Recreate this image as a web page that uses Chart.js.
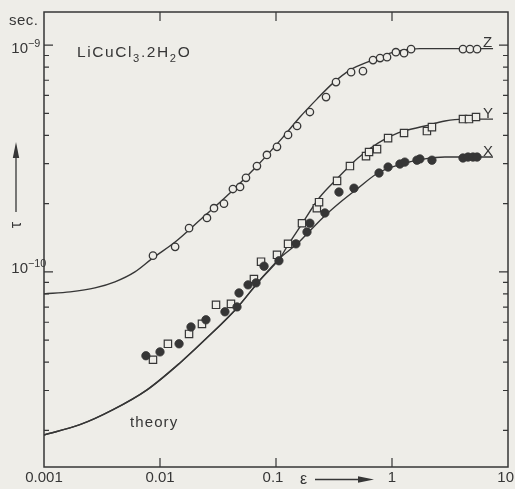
<!DOCTYPE html>
<html>
<head>
<meta charset="utf-8">
<title>LiCuCl3.2H2O relaxation time</title>
<style>
  html, body { margin: 0; padding: 0; background: #eeede8; }
  canvas { display: block; }
</style>
<script src="https://cdn.jsdelivr.net/npm/chart.js@4.4.1/dist/chart.umd.min.js"></script>
</head>
<body>
<canvas id="c" width="515" height="489"></canvas>
<script>
// ---- measured points (ε, τ in seconds) ----
// Z: open circles
const epsZ = [0.0087, 0.0135, 0.0178, 0.0254, 0.0292, 0.0356, 0.0425, 0.049, 0.0551, 0.0685,
              0.0835, 0.102, 0.127, 0.152, 0.196, 0.270, 0.329, 0.444, 0.562, 0.686,
              0.789, 0.906, 1.08, 1.27, 1.46, 4.09, 4.70, 5.41];
const tauZ = [1.18e-10, 1.29e-10, 1.56e-10, 1.73e-10, 1.91e-10, 2.00e-10, 2.32e-10, 2.37e-10, 2.60e-10, 2.93e-10,
              3.28e-10, 3.56e-10, 4.02e-10, 4.40e-10, 5.07e-10, 5.90e-10, 6.87e-10, 7.60e-10, 7.68e-10, 8.59e-10,
              8.77e-10, 8.85e-10, 9.31e-10, 9.22e-10, 9.60e-10, 9.60e-10, 9.60e-10, 9.60e-10];

// Y: open squares
const epsY = [0.0087, 0.0117, 0.0178, 0.0230, 0.0304, 0.0409, 0.0645, 0.0743, 0.102, 0.127,
              0.1675, 0.225, 0.235, 0.336, 0.434, 0.597, 0.634, 0.743, 0.925, 1.27,
              2.00, 2.21, 4.09, 4.61, 5.30];
const tauY = [4.10e-11, 4.82e-11, 5.33e-11, 5.90e-11, 7.16e-11, 7.23e-11, 9.31e-11, 1.11e-10, 1.19e-10, 1.33e-10,
              1.64e-10, 1.91e-10, 2.03e-10, 2.52e-10, 2.93e-10, 3.24e-10, 3.38e-10, 3.48e-10, 3.89e-10, 4.10e-10,
              4.18e-10, 4.35e-10, 4.72e-10, 4.72e-10, 4.82e-10];

// X: filled circles
const epsX = [0.00756, 0.0100, 0.0146, 0.0185, 0.0249, 0.0363, 0.0461, 0.048, 0.0574, 0.0673,
              0.0789, 0.106, 0.1486, 0.185, 0.196, 0.264, 0.349, 0.470, 0.773, 0.925,
              1.17, 1.29, 1.64, 1.74, 2.21, 4.09, 4.52, 4.99, 5.41];
const tauX = [4.27e-11, 4.44e-11, 4.82e-11, 5.72e-11, 6.15e-11, 6.67e-11, 7.01e-11, 8.08e-11, 8.77e-11, 8.95e-11,
              1.06e-10, 1.12e-10, 1.33e-10, 1.50e-10, 1.64e-10, 1.82e-10, 2.25e-10, 2.34e-10, 2.73e-10, 2.90e-10,
              2.99e-10, 3.05e-10, 3.11e-10, 3.15e-10, 3.11e-10, 3.18e-10, 3.21e-10, 3.21e-10, 3.21e-10];

// ---- calculated curves ----
const epsCurveZ = [0.001, 0.00168, 0.00275, 0.00409, 0.00608, 0.0087, 0.0135, 0.0221, 0.0401, 0.0685,
                   0.115, 0.161, 0.225, 0.31, 0.434, 0.645, 1.10, 1.74, 7.43];
const tauCurveZ = [8.0e-11, 8.17e-11, 8.50e-11, 9.04e-11, 1.00e-10, 1.153e-10, 1.355e-10, 1.694e-10, 2.23e-10, 2.93e-10,
                   3.93e-10, 4.82e-10, 5.78e-10, 6.80e-10, 7.76e-10, 8.50e-10, 9.41e-10, 9.65e-10, 9.65e-10];

// common "theory" branch at small ε
const epsTheory = [0.001, 0.00204, 0.00394, 0.00773, 0.01486, 0.0254, 0.0461, 0.0728, 0.108];
const tauTheory = [1.91e-11, 2.12e-11, 2.47e-11, 3.02e-11, 3.97e-11, 5.12e-11, 6.94e-11, 9.22e-11, 1.15e-10];

// continuation towards the Y plateau
const epsBranchY = [0.127, 0.161, 0.239, 0.342, 0.509, 0.757, 1.13, 1.92, 2.86, 4.09, 7.43];
const tauBranchY = [1.315e-10, 1.58e-10, 2.14e-10, 2.60e-10, 3.18e-10, 3.70e-10, 4.10e-10, 4.40e-10, 4.63e-10, 4.72e-10, 4.72e-10];

// continuation towards the X plateau
const epsBranchX = [0.152, 0.189, 0.264, 0.371, 0.509, 0.757, 1.22, 1.92, 2.86, 7.43];
const tauBranchX = [1.33e-10, 1.49e-10, 1.77e-10, 2.06e-10, 2.34e-10, 2.73e-10, 2.99e-10, 3.15e-10, 3.21e-10, 3.21e-10];

// ---- axis ticks ----
const xTickValues = [0.001, 0.01, 0.1, 1, 10];
const xTickLabels = ['0.001', '0.01', '0.1', '1', '10'];
const yMajorValues = [1e-10, 1e-9];
const yMajorExponents = ['\u221210', '\u22129'];
const yMinorValues = [2e-11, 3e-11, 4e-11, 5e-11, 6e-11, 7e-11, 8e-11, 9e-11,
                      2e-10, 3e-10, 4e-10, 5e-10, 6e-10, 7e-10, 8e-10, 9e-10];

const PAPER = '#eeede8';
const INK = '#363636';
const FONT = '"Liberation Sans", Arial, sans-serif';

const pts = (xs, ys) => xs.map((x, i) => ({ x, y: ys[i] }));

const curve = (data) => ({
  data, showLine: true, pointRadius: 0, pointHoverRadius: 0,
  borderColor: INK, borderWidth: 1.4, cubicInterpolationMode: 'monotone',
  fill: false, order: 2
});

function richText(ctx, x, baseline, parts, size, spacing) {
  let cx = x;
  ctx.textAlign = 'left';
  ctx.textBaseline = 'alphabetic';
  for (const p of parts) {
    const s = (p.sub || p.sup) ? size * 0.72 : size;
    ctx.font = s + 'px ' + FONT;
    ctx.letterSpacing = spacing + 'px';
    const dy = p.sub ? size * 0.3 : (p.sup ? -size * 0.42 : 0);
    ctx.fillText(p.t, cx, baseline + dy);
    cx += ctx.measureText(p.t).width;
  }
  ctx.letterSpacing = '0px';
  return cx;
}

const decor = {
  id: 'decor',
  beforeDraw(chart) {
    const ctx = chart.ctx;
    ctx.save();
    ctx.fillStyle = PAPER;
    ctx.fillRect(0, 0, chart.width, chart.height);
    ctx.restore();
  },
  afterDraw(chart) {
    const { ctx, chartArea: a, scales: { x, y } } = chart;
    ctx.save();
    ctx.strokeStyle = INK;
    ctx.fillStyle = INK;

    // frame
    ctx.lineWidth = 1.5;
    ctx.strokeRect(a.left, a.top, a.right - a.left, a.bottom - a.top);

    // inward ticks
    ctx.lineWidth = 1.2;
    ctx.beginPath();
    xTickValues.slice(1, -1).forEach(v => {
      const px = x.getPixelForValue(v);
      ctx.moveTo(px, a.bottom); ctx.lineTo(px, a.bottom - 9);
      ctx.moveTo(px, a.top); ctx.lineTo(px, a.top + 9);
    });
    yMajorValues.forEach(v => {
      const py = y.getPixelForValue(v);
      ctx.moveTo(a.left, py); ctx.lineTo(a.left + 9, py);
      ctx.moveTo(a.right, py); ctx.lineTo(a.right - 9, py);
    });
    yMinorValues.forEach(v => {
      const py = y.getPixelForValue(v);
      ctx.moveTo(a.left, py); ctx.lineTo(a.left + 5, py);
      ctx.moveTo(a.right, py); ctx.lineTo(a.right - 5, py);
    });
    ctx.stroke();

    // x tick labels
    ctx.font = '15px ' + FONT;
    ctx.textBaseline = 'alphabetic';
    xTickValues.forEach((v, i) => {
      const px = x.getPixelForValue(v);
      const last = i === xTickValues.length - 1;
      ctx.textAlign = last ? 'right' : 'center';
      ctx.fillText(xTickLabels[i], last ? chart.width - 1 : px - (i === 2 ? 3 : 0), a.bottom + 15);
    });

    // y tick labels: 10 with superscript exponent
    yMajorValues.forEach((v, i) => {
      const py = y.getPixelForValue(v);
      const base = py + (i === 0 ? 1 : 8);
      ctx.font = '15px ' + FONT;
      const w = ctx.measureText('10').width;
      richText(ctx, a.left - 16 - w, base, [{ t: '10' }, { t: yMajorExponents[i], sup: true }], 15, 0);
    });

    // unit
    ctx.font = '15px ' + FONT;
    ctx.textAlign = 'left';
    ctx.letterSpacing = '0.5px';
    ctx.fillText('sec.', 9, 25);
    ctx.letterSpacing = '0px';

    // compound
    richText(ctx, 77, 57, [
      { t: 'LiCuCl' }, { t: '3', sub: true }, { t: '.2H' }, { t: '2', sub: true }, { t: 'O' }
    ], 15.5, 1.6);

    // curve names at the plateau ends
    ctx.font = '15px ' + FONT;
    ctx.textAlign = 'left';
    const endLabel = (txt, eps, tau) => {
      ctx.fillText(txt, x.getPixelForValue(eps) - 10, y.getPixelForValue(tau) - 1.5);
    };
    endLabel('Z', epsCurveZ[epsCurveZ.length - 1], tauCurveZ[tauCurveZ.length - 1]);
    endLabel('Y', epsBranchY[epsBranchY.length - 1], tauBranchY[tauBranchY.length - 1]);
    endLabel('X', epsBranchX[epsBranchX.length - 1], tauBranchX[tauBranchX.length - 1]);

    // theory label
    ctx.letterSpacing = '1.1px';
    ctx.fillText('theory', 130, 427);
    ctx.letterSpacing = '0px';

    // ε axis title with arrow
    ctx.font = '16px ' + FONT;
    ctx.fillText('\u03b5', 300, 484);
    ctx.lineWidth = 1.3;
    ctx.beginPath();
    ctx.moveTo(315, 479.5); ctx.lineTo(362, 479.5);
    ctx.stroke();
    ctx.beginPath();
    ctx.moveTo(374, 479.5); ctx.lineTo(358, 476.3); ctx.lineTo(358, 482.7); ctx.closePath();
    ctx.fill();

    // τ axis title with arrow
    ctx.beginPath();
    ctx.moveTo(16, 212); ctx.lineTo(16, 154);
    ctx.stroke();
    ctx.beginPath();
    ctx.moveTo(16, 142); ctx.lineTo(12.8, 158); ctx.lineTo(19.2, 158); ctx.closePath();
    ctx.fill();
    ctx.save();
    ctx.translate(21, 225);
    ctx.rotate(-Math.PI / 2);
    ctx.font = '16px ' + FONT;
    ctx.textAlign = 'center';
    ctx.textBaseline = 'alphabetic';
    ctx.fillText('\u03c4', 0, 0);
    ctx.restore();

    ctx.restore();
  }
};

new Chart(document.getElementById('c'), {
  type: 'scatter',
  data: {
    datasets: [
      curve(pts(epsCurveZ, tauCurveZ)),
      curve(pts(epsTheory.concat(epsBranchY), tauTheory.concat(tauBranchY))),
      curve(pts(epsTheory.concat(epsBranchX), tauTheory.concat(tauBranchX))),
      {
        label: 'Z', data: pts(epsZ, tauZ), pointStyle: 'circle', pointRadius: 3.7,
        borderWidth: 1.3, borderColor: INK, backgroundColor: PAPER, showLine: false, order: 1
      },
      {
        label: 'Y', data: pts(epsY, tauY), pointStyle: 'rect', pointRadius: 5.2,
        borderWidth: 1.2, borderColor: INK, backgroundColor: PAPER, showLine: false, order: 1
      },
      {
        label: 'X', data: pts(epsX, tauX), pointStyle: 'circle', pointRadius: 4.2,
        borderWidth: 0.8, borderColor: INK, backgroundColor: INK, showLine: false, order: 0
      }
    ]
  },
  options: {
    responsive: false,
    animation: false,
    devicePixelRatio: 1,
    events: [],
    layout: { padding: { left: 44, right: 7, top: 12, bottom: 22 } },
    plugins: { legend: { display: false }, tooltip: { enabled: false } },
    scales: {
      x: { type: 'logarithmic', min: 0.001, max: 10, display: false },
      y: { type: 'logarithmic', min: 1.38e-11, max: 1.4e-9, display: false }
    }
  },
  plugins: [decor]
});
</script>
</body>
</html>
